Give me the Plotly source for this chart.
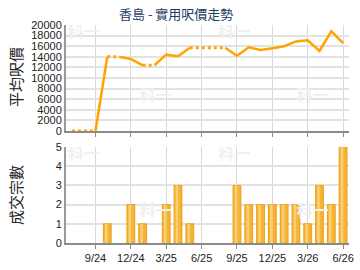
import plotly.graph_objects as go

# months index 0 = 7/24 ... 23 = 6/26
months = ["7/24","8/24","9/24","10/24","11/24","12/24","1/25","2/25","3/25","4/25","5/25","6/25",
          "7/25","8/25","9/25","10/25","11/25","12/25","1/26","2/26","3/26","4/26","5/26","6/26"]
price = [0, 0, 0, 14000, 14000, 13600, 12400, 12400, 14400, 14100, 15700, 15700,
         15700, 15700, 14200, 15800, 15300, 15600, 16000, 16900, 17100, 15100, 18800, 16600]
count = [0, 0, 0, 1, 0, 2, 1, 0, 2, 3, 1, 0,
         0, 0, 3, 2, 2, 2, 2, 2, 1, 3, 2, 5]
tick_labels = ["9/24","12/24","3/25","6/25","9/25","12/25","3/26","6/26"]
tick_pos = [2, 5, 8, 11, 14, 17, 20, 23]

x = list(range(len(months)))
LINE = "#FFA500"

L, R, T, B = 66, 6, 25, 27
W, H = 360, 270
PH = H - T - B

fig = go.Figure()

# faint watermarks behind the data (pixel spots converted to axis units)
def wx_data(p):
    return (p - L) / 12.0 - 0.5
wm_font = dict(family="Noto Sans CJK TC", size=16, color="#f0f0f0")
top_wm = [(84, 33), (157, 97), (237, 33), (317, 97)]
bot_wm = [(84, 155), (157, 212), (237, 155), (317, 212)]
fig.add_trace(go.Scatter(
    x=[wx_data(a) for a, b in top_wm], y=[(131 - b) / 106 * 20000 for a, b in top_wm],
    mode="text", text=["<b>科一</b>"] * 4, textfont=wm_font,
    xaxis="x", yaxis="y", showlegend=False, hoverinfo="skip"))
fig.add_trace(go.Scatter(
    x=[wx_data(a) for a, b in bot_wm], y=[(243 - b) / 96 * 5 for a, b in bot_wm],
    mode="text", text=["<b>科一</b>"] * 4, textfont=wm_font,
    xaxis="x2", yaxis="y2", showlegend=False, hoverinfo="skip"))

# line segments: dotted when the end month has no transactions
segs = []
for i in range(len(x) - 1):
    style = "dot" if count[i + 1] == 0 else "solid"
    if segs and segs[-1][0] == style and segs[-1][2] == i:
        segs[-1][2] = i + 1
    else:
        segs.append([style, i, i + 1])
for style, a, b in segs:
    fig.add_trace(go.Scatter(
        x=x[a:b + 1], y=price[a:b + 1], mode="lines",
        line=dict(color=LINE, width=3 if style == "dot" else 2.5, dash=style),
        xaxis="x", yaxis="y", showlegend=False, hoverinfo="skip", cliponaxis=False))

bar_y = [c if c > 0 else None for c in count]
fig.add_trace(go.Bar(
    x=x, y=bar_y, width=0.66, xaxis="x2", yaxis="y2",
    marker=dict(color="#F5B437", line=dict(color="#EBA112", width=1)),
    showlegend=False, hoverinfo="skip"))
fig.add_trace(go.Bar(
    x=x, y=bar_y, width=0.22, offset=-0.2, xaxis="x2", yaxis="y2",
    marker=dict(color="#FBCF73", line=dict(width=0)),
    showlegend=False, hoverinfo="skip"))

grid = "#e2e2e2"
tickfont = dict(family="Liberation Sans, Arial", size=11, color="#222")
common_x = dict(range=[-0.5, 23.5], tickmode="array", tickvals=tick_pos, ticktext=tick_labels,
                showgrid=True, gridcolor="#d9d9d9", gridwidth=1, zeroline=False,
                showline=True, linecolor="#8a8a8a", linewidth=2,
                ticks="outside", ticklen=4, tickcolor="#8a8a8a", tickfont=tickfont)
common_y = dict(showgrid=True, gridcolor=grid, gridwidth=2, zeroline=False, showline=True,
                linecolor="#9a9a9a", linewidth=2, ticks="", tickfont=tickfont, tickformat="d")

fig.update_layout(
    width=W, height=H,
    margin=dict(l=L, r=R, t=T, b=B),
    paper_bgcolor="white", plot_bgcolor="white",
    barmode="overlay",
    xaxis=dict(**common_x, domain=[0, 1], anchor="y", showticklabels=False),
    yaxis=dict(**common_y, domain=[(243 - 131) / PH, 1], range=[0, 20000], dtick=2000),
    xaxis2=dict(**common_x, domain=[0, 1], anchor="y2"),
    yaxis2=dict(**common_y, domain=[0, (243 - 147) / PH], range=[0, 5], dtick=1),
)

def px(xp, yp):
    return (xp - L) / (W - L - R), (H - B - yp) / PH

annots = [
    dict(text="香島 - 實用呎價走勢", x=178, y=13, font=dict(size=13, color="#1d3b66")),
    dict(text="平均呎價", x=14, y=77, textangle=-90, font=dict(size=15, color="#222")),
    dict(text="成交宗數", x=14, y=195, textangle=-90, font=dict(size=15, color="#222")),
]
for a in annots:
    ax, ay = px(a["x"], a["y"])
    fig.add_annotation(text=a["text"], x=ax, y=ay,
                       xref="paper", yref="paper", showarrow=False,
                       xanchor="center", yanchor="middle",
                       textangle=a.get("textangle", 0),
                       font=dict(family="Noto Sans CJK TC, Liberation Sans", **a["font"]))

fig.write_html("out.html")
